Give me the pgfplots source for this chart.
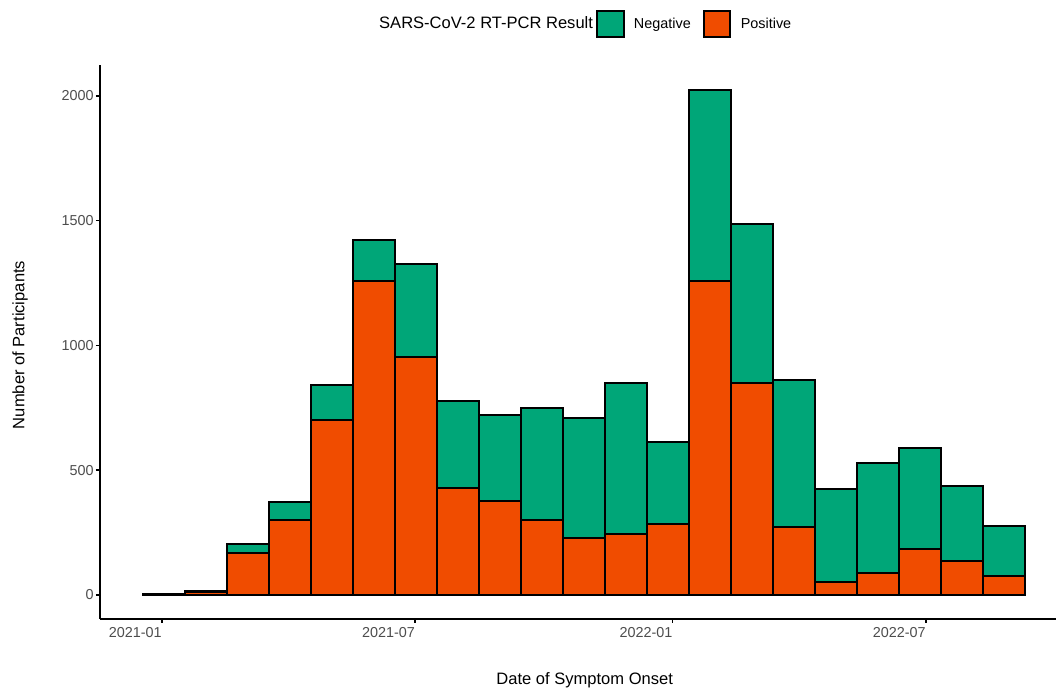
\documentclass[border=0pt]{standalone}
\usepackage{pgfplots}
\pgfplotsset{compat=1.18}
\usepackage{pgfplotstable}
\usepackage{fontspec}
\setmainfont{Liberation Sans}
\definecolor{negcol}{RGB}{0,166,120}
\definecolor{poscol}{RGB}{240,76,0}
\definecolor{tickgray}{RGB}{77,77,77}
\pgfplotstableread{
x pos neg
1.5 2 0
31.5 11 3
61.5 167 36
91.5 301 70
121.5 701 140
151.5 1259 164
181.5 953 374
211.5 430 348
241.5 377 346
271.5 301 448
301.5 227 481
331.5 246 603
361.5 285 327
391.5 1259 763
421.5 851 636
451.5 274 586
481.5 53 371
511.5 89 441
541.5 183 406
571.5 137 299
601.5 77 201
}\data
\begin{document}
\begin{tikzpicture}
\useasboundingbox (-75pt,-54pt) rectangle (718.5pt,464.25pt);
\begin{axis}[
 scale only axis, width=717pt, height=415.5pt,
 xmin=-44.3, xmax=639, ymin=-96.2, ymax=2124,
 axis lines*=left, axis line style={line width=1.3pt, black},
 ybar stacked, bar width=30,
 xtick={0,181,365,546}, xticklabels={2021-01,2021-07,2022-01,2022-07},
 ytick={0,500,1000,1500,2000},
 tick style={line width=1.1pt, black}, major tick length=3pt, tick align=outside,
 tick label style={font=\fontsize{10.8}{13}\selectfont, text=tickgray},
 /pgf/number format/assume math mode=true, /pgf/number format/1000 sep={},
 xticklabel style={anchor=north east, inner sep=0pt, yshift=-3pt},
 yticklabel style={anchor=east, inner sep=0pt, xshift=-1.5pt},
 label style={font=\fontsize{12.4}{15}\selectfont},
 xlabel={Date of Symptom Onset},
 ylabel={Number of Participants},
 xlabel style={at={(axis description cs:0.507,-0.110)}, anchor=center},
 ylabel style={at={(axis description cs:-0.0835,0.4946)}, anchor=center},
 legend style={at={(axis description cs:0.2918,1.074)}, anchor=west, draw=none, fill=none, inner sep=0pt,
   nodes={inner sep=0pt, font=\fontsize{10.8}{13}\selectfont},
   /tikz/column 1/.style={column sep=0pt},
   /tikz/column 2/.style={column sep=2.5pt},
   /tikz/column 3/.style={column sep=6.75pt},
   /tikz/column 4/.style={column sep=9pt},
   /tikz/column 5/.style={column sep=7pt}},
 legend columns=-1,
]
\addplot[fill=poscol, draw=black, line width=1.5pt, forget plot] table[x=x, y=pos] {\data};
\addplot[fill=negcol, draw=black, line width=1.5pt, forget plot] table[x=x, y=neg] {\data};
\addlegendimage{empty legend}
\addlegendentry{\fontsize{12.4}{15}\selectfont SARS-CoV-2 RT-PCR Result}
\addlegendimage{legend image code/.code={\draw[line width=1.5pt, fill=negcol] (0pt,-10pt) rectangle (20pt,10pt);}}
\addlegendentry{Negative}
\addlegendimage{legend image code/.code={\draw[line width=1.5pt, fill=poscol] (0pt,-10pt) rectangle (20pt,10pt);}}
\addlegendentry{Positive}
\end{axis}
\end{tikzpicture}
\end{document}
